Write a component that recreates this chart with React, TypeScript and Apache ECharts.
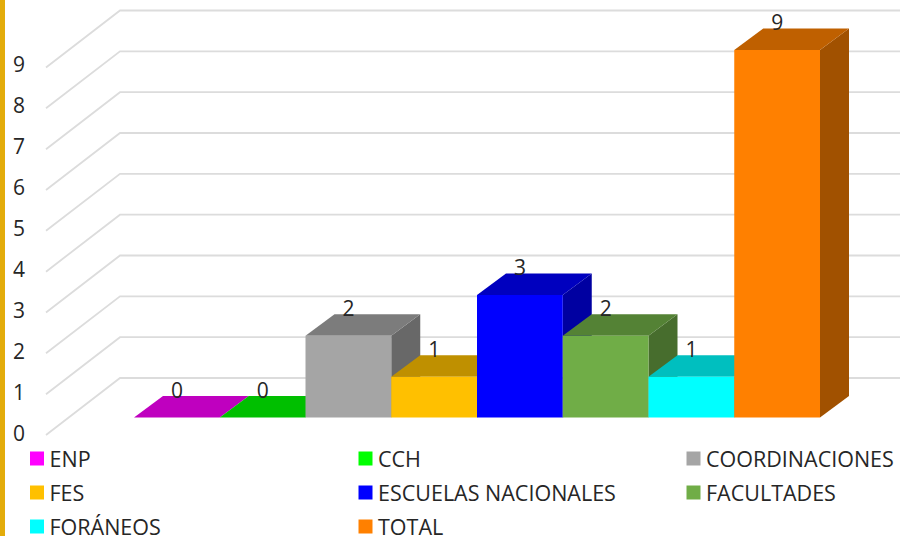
import React, { useEffect, useRef } from "react";
import * as echarts from "echarts";

const categories = ["ENP", "CCH", "COORDINACIONES", "FES", "ESCUELAS NACIONALES", "FACULTADES", "FORÁNEOS", "TOTAL"];
const values = [0, 0, 2, 1, 3, 2, 1, 9];
const colors = ["#FF00FF", "#00FF00", "#A5A5A5", "#FFC000", "#0000FF", "#70AD47", "#00FFFF", "#FF8000"];
const yTicks = [0, 1, 2, 3, 4, 5, 6, 7, 8, 9];
const legendCol1 = ["ENP", "FES", "FORÁNEOS"];
const legendCol2 = ["CCH", "ESCUELAS NACIONALES", "TOTAL"];
const legendCol3 = ["COORDINACIONES", "FACULTADES"];

const DEPTH_X = 29;
const DEPTH_Y = 21.5;
const FONT = "'Open Sans', sans-serif";
const TEXT = "#262626";

function shade(hex: string, factor: number) {
  const n = parseInt(hex.slice(1), 16);
  const r = Math.round(((n >> 16) & 255) * factor);
  const g = Math.round(((n >> 8) & 255) * factor);
  const b = Math.round((n & 255) * factor);
  return `rgb(${r},${g},${b})`;
}

function legend(left: number, data: string[]) {
  return {
    left,
    top: 447.5,
    height: 120,
    orient: "vertical",
    data,
    icon: "rect",
    itemWidth: 14,
    itemHeight: 14,
    itemGap: 12,
    selectedMode: false,
    padding: 0,
    textStyle: { fontFamily: FONT, fontSize: 21.5, lineHeight: 20, color: TEXT, padding: [0, 0, 0, 0.5] },
  };
}

export default function App() {
  const ref = useRef<HTMLDivElement>(null);
  useEffect(() => {
    document.body.style.margin = "0";
    const chart = echarts.init(ref.current!, null, { renderer: "svg" });

    const wall = {
      type: "custom",
      name: "wall",
      xAxisIndex: 0,
      yAxisIndex: 0,
      silent: true,
      z: 1,
      clip: false,
      data: yTicks.map((t) => [0, t]),
      renderItem: (_p: any, api: any) => {
        const y = api.coord([0, api.value(1)])[1];
        return {
          type: "polyline",
          shape: { points: [[46, y + 17.5], [120, y - 39.5], [api.getWidth(), y - 39.5]] },
          style: { stroke: "#DCDCDC", lineWidth: 1.8, fill: "none" },
        };
      },
    };

    const bars = categories.map((name, i) => ({
      type: "custom",
      name,
      xAxisIndex: 0,
      yAxisIndex: 0,
      clip: false,
      z: 2,
      itemStyle: { color: colors[i] },
      data: [[i, values[i]]],
      renderItem: (_p: any, api: any) => {
        const v = api.value(1);
        const [cx, top] = api.coord([api.value(0), v]);
        const [, base] = api.coord([api.value(0), 0]);
        const w = api.size([1, 0])[0];
        const l = cx - w / 2;
        const r = cx + w / 2;
        const c = colors[i];
        return {
          type: "group",
          children: [
            {
              type: "polygon",
              shape: { points: [[r, top], [r + DEPTH_X, top - DEPTH_Y], [r + DEPTH_X, base - DEPTH_Y], [r, base]] },
              style: { fill: shade(c, 0.63) },
            },
            {
              type: "polygon",
              shape: { points: [[l, top], [r, top], [r + DEPTH_X, top - DEPTH_Y], [l + DEPTH_X, top - DEPTH_Y]] },
              style: { fill: shade(c, 0.75) },
            },
            {
              type: "rect",
              shape: { x: l, y: top, width: w, height: base - top },
              style: { fill: c },
            },
            {
              type: "text",
              x: cx,
              y: top - 28,
              z2: 100,
              style: {
                text: String(v),
                align: "center",
                verticalAlign: "middle",
                fontFamily: FONT,
                fontSize: 21,
                fill: TEXT,
              },
            },
          ],
        };
      },
    }));

    chart.setOption({
      animation: false,
      backgroundColor: "#FFFFFF",
      graphic: [
        { type: "rect", shape: { x: 0, y: 0, width: 5, height: 536 }, style: { fill: "#E3AC0B" } },
      ],
      legend: [legend(30, legendCol1), legend(358.5, legendCol2), legend(686.5, legendCol3)],
      grid: [
        { left: 134, width: 686, top: 50, height: 367.5 },
        { left: 46, width: 74, top: 64, height: 369 },
      ],
      xAxis: [
        { type: "category", data: categories, gridIndex: 0, show: false },
        { type: "category", data: categories, gridIndex: 1, show: false },
      ],
      yAxis: [
        { type: "value", gridIndex: 0, min: 0, max: 9, interval: 1, show: false },
        {
          type: "value",
          gridIndex: 1,
          min: 0,
          max: 9,
          interval: 1,
          axisLine: { show: false },
          axisTick: { show: false },
          splitLine: { show: false },
          axisLabel: { margin: 21, fontFamily: FONT, fontSize: 21, color: TEXT },
        },
      ],
      series: [wall, ...bars],
    });
    return () => chart.dispose();
  }, []);
  return <div ref={ref} style={{ position: "absolute", left: 0, top: 0, width: 900, height: 536 }} />;
}
